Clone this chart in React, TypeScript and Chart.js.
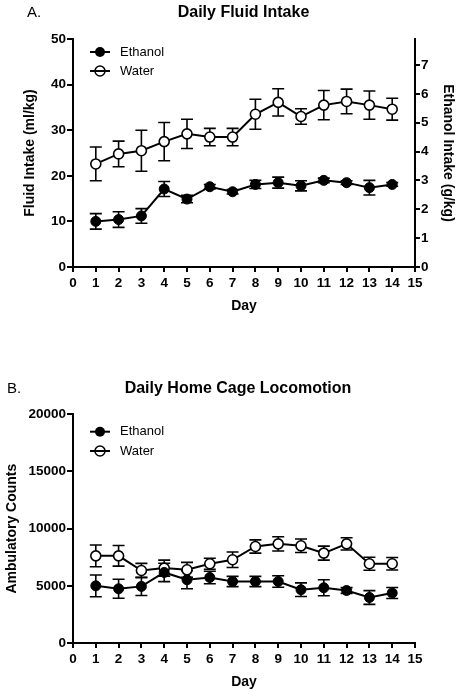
import React, { useEffect, useRef } from 'react';
import { Chart, registerables } from 'chart.js';

Chart.register(...registerables);
Chart.defaults.font.family = '"Liberation Sans", Arial, sans-serif';
Chart.defaults.color = '#000';

const days = [1, 2, 3, 4, 5, 6, 7, 8, 9, 10, 11, 12, 13, 14];

// Panel A: Daily Fluid Intake (ml/kg)
const ethanolIntake = [10.0, 10.4, 11.2, 17.1, 14.9, 17.6, 16.5, 18.1, 18.5, 17.8, 19.0, 18.5, 17.4, 18.1];
const ethanolIntakeErr = [1.7, 1.7, 1.6, 1.65, 0.8, 0.5, 0.5, 0.9, 1.2, 1.1, 0.5, 0.4, 1.6, 0.4];
const waterIntake = [22.6, 24.8, 25.5, 27.5, 29.2, 28.5, 28.5, 33.5, 36.1, 33.0, 35.5, 36.3, 35.5, 34.6];
const waterIntakeErr = [3.7, 2.8, 4.5, 4.2, 3.2, 1.9, 1.9, 3.3, 3.0, 1.7, 3.2, 2.7, 3.1, 2.4];

// Panel B: Daily Home Cage Locomotion (ambulatory counts)
const ethanolLoco = [5000, 4740, 4950, 6170, 5530, 5730, 5380, 5380, 5380, 4660, 4830, 4590, 3980, 4370];
const ethanolLocoErr = [950, 830, 800, 800, 790, 550, 450, 450, 500, 600, 700, 250, 600, 480];
const waterLoco = [7620, 7620, 6340, 6550, 6400, 6930, 7280, 8440, 8670, 8500, 7860, 8670, 6930, 6930];
const waterLocoErr = [950, 900, 620, 700, 650, 480, 680, 580, 620, 590, 610, 540, 570, 550];

const seriesNames = ['Ethanol', 'Water'];

const errorBarPlugin = {
  id: 'errorBars',
  beforeDatasetsDraw(chart: any) {
    const ctx = chart.ctx;
    ctx.save();
    ctx.strokeStyle = '#000';
    ctx.lineWidth = 1.6;
    chart.data.datasets.forEach((ds: any, di: number) => {
      const meta = chart.getDatasetMeta(di);
      const ys = chart.scales[meta.yAxisID];
      (ds.errors || []).forEach((e: number, i: number) => {
        const pt = meta.data[i];
        const v = ds.data[i].y;
        const yt = ys.getPixelForValue(v + e);
        const yb = ys.getPixelForValue(v - e);
        const x = pt.x;
        ctx.beginPath();
        ctx.moveTo(x, yt);
        ctx.lineTo(x, yb);
        ctx.moveTo(x - 6, yt);
        ctx.lineTo(x + 6, yt);
        ctx.moveTo(x - 6, yb);
        ctx.lineTo(x + 6, yb);
        ctx.stroke();
      });
    });
    ctx.restore();
  },
};

const decorPlugin = {
  id: 'decor',
  afterDraw(chart: any) {
    const o = chart.options.plugins.decor;
    const ctx = chart.ctx;
    ctx.save();
    ctx.fillStyle = '#000';
    ctx.textBaseline = 'middle';
    ctx.font = '15px "Liberation Sans", Arial, sans-serif';
    ctx.textAlign = 'left';
    ctx.fillText(o.label, o.labelX, o.titleY);
    ctx.font = 'bold 16px "Liberation Sans", Arial, sans-serif';
    ctx.textAlign = 'center';
    ctx.fillText(o.title, o.titleX, o.titleY);
    // legend
    seriesNames.forEach((name, i) => {
      const y = o.legendY[i];
      ctx.strokeStyle = '#000';
      ctx.lineWidth = 2;
      ctx.beginPath();
      ctx.moveTo(90, y);
      ctx.lineTo(110, y);
      ctx.stroke();
      ctx.beginPath();
      ctx.arc(100, y, 5, 0, Math.PI * 2);
      if (i === 0) {
        ctx.fillStyle = '#000';
        ctx.fill();
      } else {
        ctx.lineWidth = 1.5;
        ctx.stroke();
      }
      ctx.fillStyle = '#000';
      ctx.font = '13px "Liberation Sans", Arial, sans-serif';
      ctx.textAlign = 'left';
      ctx.fillText(name, 120, y);
    });
    ctx.restore();
  },
};

const tickFont = { size: 13.5, weight: 'bold' as const };
const titleFont = { size: 14, weight: 'bold' as const };
const plainTick = (v: any) => String(v);

function axisBase() {
  return {
    grid: { drawOnChartArea: false, drawTicks: true, tickLength: 6, color: '#000', lineWidth: 2 },
    border: { display: true, color: '#000', width: 2 },
  };
}

function xAxis(bottomPad: number) {
  return {
    type: 'linear',
    position: 'bottom',
    min: 0,
    max: 15,
    ...axisBase(),
    grid: { drawOnChartArea: false, drawTicks: true, tickLength: 5, color: '#000', lineWidth: 2 },
    ticks: { stepSize: 1, autoSkip: false, maxRotation: 0, padding: 3, color: '#000', font: tickFont, callback: plainTick },
    title: { display: true, text: 'Day', color: '#000', font: titleFont, padding: { top: 0, bottom: bottomPad } },
    afterFit: (s: any) => {
      s.height = 53;
    },
  };
}

function lineDataset(label: string, values: number[], errors: number[], filled: boolean, yAxisID: string) {
  return {
    label,
    data: days.map((d, i) => ({ x: d, y: values[i] })),
    errors,
    yAxisID,
    borderColor: '#000',
    borderWidth: 2,
    pointRadius: 5,
    pointHoverRadius: 5,
    pointBorderWidth: filled ? 1 : 1.6,
    pointBackgroundColor: filled ? '#000' : '#fff',
    pointBorderColor: '#000',
    tension: 0,
    fill: false,
  };
}

function configA(): any {
  return {
    type: 'line',
    data: {
      datasets: [
        lineDataset('Ethanol', ethanolIntake, ethanolIntakeErr, true, 'y'),
        lineDataset('Water', waterIntake, waterIntakeErr, false, 'y'),
      ],
    },
    options: {
      animation: false,
      responsive: false,
      devicePixelRatio: 1,
      layout: { padding: { top: 39, left: 0, right: 0, bottom: 0 } },
      plugins: {
        legend: { display: false },
        tooltip: { enabled: false },
        decor: { label: 'A.', labelX: 27, title: 'Daily Fluid Intake', titleX: 243.5, titleY: 12.5, legendY: [52, 71] },
      },
      scales: {
        x: xAxis(5.6),
        y: {
          type: 'linear',
          position: 'left',
          min: 0,
          max: 50,
          ...axisBase(),
          ticks: { stepSize: 10, padding: 1, color: '#000', font: tickFont, callback: plainTick },
          title: { display: true, text: 'Fluid Intake (ml/kg)', color: '#000', font: titleFont, padding: { top: 21.6, bottom: 0 } },
          afterFit: (s: any) => {
            s.width = 73;
          },
        },
        y2: {
          type: 'linear',
          position: 'right',
          min: 0,
          max: 7.9,
          ...axisBase(),
          grid: { drawOnChartArea: false, drawTicks: true, tickLength: 5, color: '#000', lineWidth: 2 },
          ticks: { stepSize: 1, includeBounds: false, padding: 1, color: '#000', font: tickFont, callback: plainTick },
          title: { display: true, text: 'Ethanol Intake (g/kg)', color: '#000', font: titleFont, padding: { top: 6.6, bottom: 0 } },
          afterFit: (s: any) => {
            s.width = 48;
          },
        },
      },
    },
    plugins: [errorBarPlugin, decorPlugin],
  };
}

function configB(): any {
  return {
    type: 'line',
    data: {
      datasets: [
        lineDataset('Ethanol', ethanolLoco, ethanolLocoErr, true, 'y'),
        lineDataset('Water', waterLoco, waterLocoErr, false, 'y'),
      ],
    },
    options: {
      animation: false,
      responsive: false,
      devicePixelRatio: 1,
      layout: { padding: { top: 54.3, left: 0, right: 48, bottom: 0 } },
      plugins: {
        legend: { display: false },
        tooltip: { enabled: false },
        decor: { label: 'B.', labelX: 7, title: 'Daily Home Cage Locomotion', titleX: 238, titleY: 29, legendY: [71.7, 91] },
      },
      scales: {
        x: xAxis(5),
        y: {
          type: 'linear',
          position: 'left',
          min: 0,
          max: 20000,
          ...axisBase(),
          ticks: { stepSize: 5000, padding: 1, color: '#000', font: tickFont, callback: plainTick },
          title: { display: true, text: 'Ambulatory Counts', color: '#000', font: titleFont, padding: { top: 3.6, bottom: 0 } },
          afterFit: (s: any) => {
            s.width = 73;
          },
        },
      },
    },
    plugins: [errorBarPlugin, decorPlugin],
  };
}

function ChartCanvas({ make, top, width, height }: { make: () => any; top: number; width: number; height: number }) {
  const ref = useRef<HTMLCanvasElement | null>(null);
  useEffect(() => {
    if (!ref.current) return;
    const chart = new Chart(ref.current, make());
    return () => chart.destroy();
  }, []);
  return (
    <canvas
      ref={ref}
      width={width}
      height={height}
      style={{ position: 'absolute', left: 0, top, width, height, display: 'block' }}
    />
  );
}

export default function App() {
  return (
    <div style={{ position: 'absolute', left: 0, top: 0, width: 463, height: 696, background: '#fff', overflow: 'hidden' }}>
      <ChartCanvas make={configA} top={0} width={463} height={320} />
      <ChartCanvas make={configB} top={360} width={463} height={336} />
    </div>
  );
}
